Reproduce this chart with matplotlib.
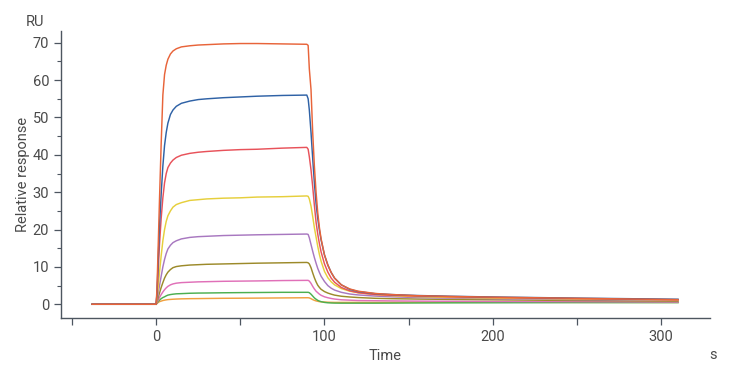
import numpy as np
import matplotlib
matplotlib.use("Agg")
import matplotlib.pyplot as plt
from matplotlib.ticker import MultipleLocator

plt.rcParams["font.family"] = ["Roboto", "DejaVu Sans"]

# association phase time points (s)
t_assoc = [-38, 0, 0.5, 1, 1.5, 2, 3, 4, 5, 6, 7, 8.5, 10, 12, 15, 20, 25,
           30, 40, 50, 60, 75, 89.5]
# dissociation phase time points (s)
t_dissoc = [90.3, 91, 92, 93, 94, 95, 96, 97, 98, 100, 102, 104, 106, 110,
            115, 120, 130, 140, 155, 175, 200, 250, 310]

# responses (RU), highest concentration first
assoc = {
    "c1": [0, 0, 4, 12, 20, 28, 43, 56, 61.5, 64, 65.6, 67, 67.8, 68.4, 68.9, 69.2, 69.4, 69.5, 69.7, 69.8, 69.8, 69.7, 69.6],
    "c2": [0, 0, 3, 9, 15, 21, 29.5, 37, 42.5, 46, 48.5, 50.8, 52, 53, 53.8, 54.4, 54.8, 55.0, 55.3, 55.5, 55.7, 55.9, 56.0],
    "c3": [0, 0, 2.5, 7, 11.5, 16, 23, 28.5, 32.5, 35, 36.6, 37.8, 38.6, 39.3, 39.9, 40.4, 40.7, 40.9, 41.2, 41.4, 41.5, 41.8, 42],
    "c4": [0, 0, 1.5, 3.5, 6, 8.5, 13, 17, 20, 22.2, 23.7, 25, 26, 26.7, 27.2, 27.8, 28.0, 28.2, 28.4, 28.5, 28.7, 28.8, 29.0],
    "c5": [0, 0, 1, 2.3, 3.6, 5, 7.5, 10, 12, 13.6, 14.8, 15.8, 16.5, 17, 17.5, 17.9, 18.1, 18.2, 18.4, 18.5, 18.6, 18.7, 18.8],
    "c6": [0, 0, 0.6, 1.4, 2.2, 3, 4.5, 5.8, 7, 7.9, 8.6, 9.3, 9.8, 10.1, 10.3, 10.5, 10.6, 10.7, 10.8, 10.9, 11, 11.1, 11.2],
    "c7": [0, 0, 0.4, 0.9, 1.3, 1.8, 2.6, 3.3, 3.9, 4.4, 4.8, 5.2, 5.45, 5.65, 5.8, 5.9, 6.0, 6.05, 6.15, 6.2, 6.25, 6.35, 6.4],
    "c8": [0, 0, 0.3, 0.6, 0.9, 1.1, 1.5, 1.8, 2.0, 2.25, 2.45, 2.6, 2.7, 2.8, 2.85, 2.95, 3.0, 3.02, 3.08, 3.12, 3.15, 3.2, 3.2],
    "c9": [0, 0, 0.2, 0.4, 0.55, 0.7, 0.85, 1.0, 1.1, 1.18, 1.25, 1.3, 1.35, 1.4, 1.45, 1.5, 1.52, 1.55, 1.6, 1.62, 1.65, 1.7, 1.75],
}
dissoc = {
    "c1": [69.3, 63, 57.5, 46, 37, 30, 24.5, 20.5, 17.5, 13.2, 10.5, 8.5, 7.0, 5.2, 4.1, 3.5, 2.9, 2.6, 2.3, 2.1, 1.9, 1.6, 1.25],
    "c2": [55, 52, 46, 39, 32.5, 27, 23, 19.8, 17.2, 13.2, 10.5, 8.5, 7.0, 5.2, 4.0, 3.4, 2.85, 2.6, 2.35, 2.15, 1.95, 1.65, 1.35],
    "c3": [41.5, 39.5, 36, 31.5, 26.5, 22, 18.8, 16.2, 14, 10.8, 8.6, 7.0, 5.9, 4.5, 3.6, 3.1, 2.6, 2.4, 2.2, 2.0, 1.8, 1.5, 1.2],
    "c4": [28.9, 28.2, 26.3, 23.5, 20.5, 18, 15.5, 13.3, 11.5, 8.8, 7.1, 6.0, 5.2, 4.2, 3.5, 3.1, 2.6, 2.3, 2.05, 1.85, 1.65, 1.4, 1.15],
    "c5": [18.7, 17.8, 16, 14.2, 12.5, 11, 9.6, 8.5, 7.5, 6.1, 5.0, 4.3, 3.8, 3.2, 2.75, 2.5, 2.2, 2.0, 1.8, 1.65, 1.5, 1.25, 1.05],
    "c6": [11.1, 10.8, 9.8, 8.4, 7.1, 6.0, 5.1, 4.5, 4.0, 3.4, 3.0, 2.7, 2.45, 2.15, 1.95, 1.8, 1.6, 1.5, 1.4, 1.3, 1.2, 1.0, 0.85],
    "c7": [6.4, 6.2, 5.6, 4.8, 4.1, 3.5, 3.1, 2.7, 2.4, 2.0, 1.75, 1.55, 1.4, 1.2, 1.1, 1.0, 0.95, 0.9, 0.85, 0.8, 0.75, 0.7, 0.6],
    "c8": [3.2, 3.1, 2.7, 2.2, 1.7, 1.35, 1.05, 0.85, 0.7, 0.5, 0.4, 0.35, 0.32, 0.3, 0.3, 0.3, 0.3, 0.32, 0.35, 0.38, 0.4, 0.45, 0.45],
    "c9": [1.75, 1.7, 1.5, 1.25, 1.05, 0.9, 0.8, 0.7, 0.65, 0.6, 0.55, 0.52, 0.5, 0.5, 0.5, 0.5, 0.5, 0.52, 0.55, 0.55, 0.55, 0.5, 0.5],
}
colors = {
    "c1": "#e8643a", "c2": "#2f62a6", "c3": "#e8525a", "c4": "#e6cf3c",
    "c5": "#a878c0", "c6": "#9c8a2a", "c7": "#e070b8", "c8": "#4caf50",
    "c9": "#f0a040",
}

fig = plt.figure(figsize=(7.35, 3.76), dpi=100)
ax = fig.add_axes([0.083, 0.154, 0.883, 0.764])

t_all = np.array(t_assoc + t_dissoc)
for key in reversed(list(assoc)):
    y = np.array(assoc[key] + dissoc[key])
    ax.plot(t_all, y, color=colors[key], lw=1.05, solid_joinstyle="round")

ax.set_xlim(-56.5, 329)
ax.set_ylim(-3.7, 73.2)
ax.set_xticks([0, 100, 200, 300])
ax.xaxis.set_minor_locator(MultipleLocator(50))
ax.yaxis.set_major_locator(MultipleLocator(10))
ax.yaxis.set_minor_locator(MultipleLocator(5))

axis_col = "#4d5660"
label_col = "#4a4a4a"
for s in ["top", "right"]:
    ax.spines[s].set_visible(False)
for s in ["left", "bottom"]:
    ax.spines[s].set_color(axis_col)
    ax.spines[s].set_linewidth(1.0)

ax.tick_params(axis="both", which="major", length=5, width=0.9, color=axis_col,
               labelcolor=label_col, labelsize=10.5)
ax.tick_params(axis="y", which="minor", length=3, width=0.8, color=axis_col)
ax.tick_params(axis="x", which="minor", length=5, width=0.9, color=axis_col)

ax.set_xlabel("Time", color=label_col, fontsize=10.5, labelpad=4)
ax.set_ylabel("Relative response", color=label_col, fontsize=10.5, labelpad=2)
fig.text(35 / 735, 1 - 22 / 376, "RU", color=label_col, fontsize=10.5,
         ha="center", va="center")
fig.text(713 / 735, 1 - 355 / 376, "s", color=label_col, fontsize=10.5,
         ha="center", va="center")

fig.savefig("out.png", dpi=100)
